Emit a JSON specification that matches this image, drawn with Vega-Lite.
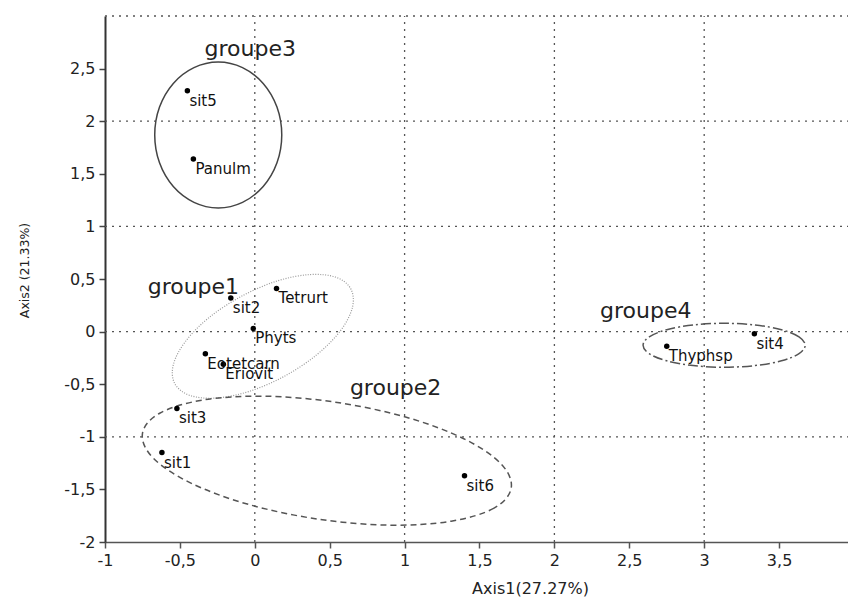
{
  "$schema": "https://vega.github.io/schema/vega-lite/v6.json",
  "width": 743,
  "height": 526,
  "autosize": "none",
  "padding": {"left": 105, "top": 16, "right": 0, "bottom": 56},
  "background": "white",
  "config": {"view": {"stroke": null}, "font": "DejaVu Sans"},
  "datasets": {
    "points": [
      {"name": "sit5", "x": -0.45, "y": 2.29},
      {"name": "Panulm", "x": -0.41, "y": 1.64},
      {"name": "sit2", "x": -0.16, "y": 0.32},
      {"name": "Tetrurt", "x": 0.145, "y": 0.41},
      {"name": "Phyts", "x": -0.01, "y": 0.03},
      {"name": "Eotetcarn", "x": -0.33, "y": -0.21},
      {"name": "Eriovit", "x": -0.21, "y": -0.31},
      {"name": "sit3", "x": -0.52, "y": -0.73},
      {"name": "sit1", "x": -0.62, "y": -1.15},
      {"name": "sit6", "x": 1.4, "y": -1.37},
      {"name": "Thyphsp", "x": 2.75, "y": -0.14},
      {"name": "sit4", "x": 3.335, "y": -0.02}
    ],
    "groups": [
      {"name": "groupe3", "x": -0.03, "y": 2.69},
      {"name": "groupe1", "x": -0.41, "y": 0.425},
      {"name": "groupe2", "x": 0.94, "y": -0.534},
      {"name": "groupe4", "x": 2.61, "y": 0.2}
    ],
    "grid": [
      {"x": 0, "y": -2, "x2": 0, "y2": 3},
      {"x": 1, "y": -2, "x2": 1, "y2": 3},
      {"x": 2, "y": -2, "x2": 2, "y2": 3},
      {"x": 3, "y": -2, "x2": 3, "y2": 3},
      {"x": -1, "y": -1, "x2": 3.96, "y2": -1},
      {"x": -1, "y": 0, "x2": 3.96, "y2": 0},
      {"x": -1, "y": 1, "x2": 3.96, "y2": 1},
      {"x": -1, "y": 2, "x2": 3.96, "y2": 2},
      {"x": -1, "y": 3, "x2": 3.96, "y2": 3}
    ],
    "ellipses": [
      {"g": "groupe1", "k": 0, "x": 0.641, "y": 0.406},
      {"g": "groupe1", "k": 1, "x": 0.651, "y": 0.226},
      {"g": "groupe1", "k": 2, "x": 0.57, "y": 0.005},
      {"g": "groupe1", "k": 3, "x": 0.411, "y": -0.223},
      {"g": "groupe1", "k": 4, "x": 0.197, "y": -0.425},
      {"g": "groupe1", "k": 5, "x": -0.039, "y": -0.569},
      {"g": "groupe1", "k": 6, "x": -0.26, "y": -0.632},
      {"g": "groupe1", "k": 7, "x": -0.434, "y": -0.606},
      {"g": "groupe1", "k": 8, "x": -0.534, "y": -0.495},
      {"g": "groupe1", "k": 9, "x": -0.544, "y": -0.315},
      {"g": "groupe1", "k": 10, "x": -0.463, "y": -0.094},
      {"g": "groupe1", "k": 11, "x": -0.305, "y": 0.134},
      {"g": "groupe1", "k": 12, "x": -0.09, "y": 0.335},
      {"g": "groupe1", "k": 13, "x": 0.146, "y": 0.48},
      {"g": "groupe1", "k": 14, "x": 0.367, "y": 0.542},
      {"g": "groupe1", "k": 15, "x": 0.541, "y": 0.517},
      {"g": "groupe2", "k": 0, "x": 1.712, "y": -1.485},
      {"g": "groupe2", "k": 1, "x": 1.597, "y": -1.678},
      {"g": "groupe2", "k": 2, "x": 1.311, "y": -1.802},
      {"g": "groupe2", "k": 3, "x": 0.899, "y": -1.84},
      {"g": "groupe2", "k": 4, "x": 0.424, "y": -1.783},
      {"g": "groupe2", "k": 5, "x": -0.044, "y": -1.642},
      {"g": "groupe2", "k": 6, "x": -0.43, "y": -1.438},
      {"g": "groupe2", "k": 7, "x": -0.679, "y": -1.201},
      {"g": "groupe2", "k": 8, "x": -0.75, "y": -0.969},
      {"g": "groupe2", "k": 9, "x": -0.635, "y": -0.776},
      {"g": "groupe2", "k": 10, "x": -0.349, "y": -0.651},
      {"g": "groupe2", "k": 11, "x": 0.063, "y": -0.614},
      {"g": "groupe2", "k": 12, "x": 0.538, "y": -0.671},
      {"g": "groupe2", "k": 13, "x": 1.006, "y": -0.812},
      {"g": "groupe2", "k": 14, "x": 1.392, "y": -1.016},
      {"g": "groupe2", "k": 15, "x": 1.641, "y": -1.253},
      {"g": "groupe3", "k": 0, "x": 0.18, "y": 1.869},
      {"g": "groupe3", "k": 1, "x": 0.148, "y": 2.134},
      {"g": "groupe3", "k": 2, "x": 0.056, "y": 2.359},
      {"g": "groupe3", "k": 3, "x": -0.082, "y": 2.509},
      {"g": "groupe3", "k": 4, "x": -0.244, "y": 2.562},
      {"g": "groupe3", "k": 5, "x": -0.406, "y": 2.509},
      {"g": "groupe3", "k": 6, "x": -0.544, "y": 2.359},
      {"g": "groupe3", "k": 7, "x": -0.636, "y": 2.134},
      {"g": "groupe3", "k": 8, "x": -0.668, "y": 1.869},
      {"g": "groupe3", "k": 9, "x": -0.636, "y": 1.604},
      {"g": "groupe3", "k": 10, "x": -0.544, "y": 1.379},
      {"g": "groupe3", "k": 11, "x": -0.406, "y": 1.229},
      {"g": "groupe3", "k": 12, "x": -0.244, "y": 1.176},
      {"g": "groupe3", "k": 13, "x": -0.082, "y": 1.229},
      {"g": "groupe3", "k": 14, "x": 0.056, "y": 1.379},
      {"g": "groupe3", "k": 15, "x": 0.148, "y": 1.604},
      {"g": "groupe4", "k": 0, "x": 3.674, "y": -0.13},
      {"g": "groupe4", "k": 1, "x": 3.633, "y": -0.05},
      {"g": "groupe4", "k": 2, "x": 3.516, "y": 0.018},
      {"g": "groupe4", "k": 3, "x": 3.34, "y": 0.063},
      {"g": "groupe4", "k": 4, "x": 3.133, "y": 0.079},
      {"g": "groupe4", "k": 5, "x": 2.926, "y": 0.063},
      {"g": "groupe4", "k": 6, "x": 2.75, "y": 0.018},
      {"g": "groupe4", "k": 7, "x": 2.633, "y": -0.05},
      {"g": "groupe4", "k": 8, "x": 2.592, "y": -0.13},
      {"g": "groupe4", "k": 9, "x": 2.633, "y": -0.21},
      {"g": "groupe4", "k": 10, "x": 2.75, "y": -0.278},
      {"g": "groupe4", "k": 11, "x": 2.926, "y": -0.323},
      {"g": "groupe4", "k": 12, "x": 3.133, "y": -0.339},
      {"g": "groupe4", "k": 13, "x": 3.34, "y": -0.323},
      {"g": "groupe4", "k": 14, "x": 3.516, "y": -0.278},
      {"g": "groupe4", "k": 15, "x": 3.633, "y": -0.21}
    ]
  },
  "encoding": {
    "x": {
      "field": "x",
      "type": "quantitative",
      "scale": {"domain": [-1, 3.96], "nice": false, "zero": false},
      "axis": {
        "values": [-1, -0.5, 0, 0.5, 1, 1.5, 2, 2.5, 3, 3.5],
        "labelExpr": "replace(toString(datum.value), '.', ',')",
        "grid": false,
        "domainColor": "#555",
        "domainWidth": 1.5,
        "tickColor": "#555",
        "tickSize": 6,
        "tickWidth": 1.5,
        "labelFont": "DejaVu Sans",
        "labelFontSize": 16,
        "labelColor": "#222",
        "labelPadding": 4,
        "labelFlush": false,
        "labelOverlap": false,
        "title": "Axis1(27.27%)",
        "titleFont": "DejaVu Sans",
        "titleFontSize": 16,
        "titleFontWeight": "normal",
        "titleColor": "#222",
        "titleX": 425,
        "titleY": 46,
        "titleBaseline": "middle",
        "titleAlign": "center"
      }
    },
    "y": {
      "field": "y",
      "type": "quantitative",
      "scale": {"domain": [-2, 3], "nice": false, "zero": false},
      "axis": {
        "values": [-2, -1.5, -1, -0.5, 0, 0.5, 1, 1.5, 2, 2.5],
        "labelExpr": "replace(toString(datum.value), '.', ',')",
        "grid": false,
        "domainColor": "#333",
        "domainWidth": 2,
        "tickColor": "#444",
        "tickSize": 6,
        "tickWidth": 1.5,
        "labelFont": "DejaVu Sans",
        "labelFontSize": 16,
        "labelColor": "#222",
        "labelPadding": 4,
        "labelFlush": false,
        "labelOverlap": false,
        "title": "Axis2 (21.33%)",
        "titleFont": "DejaVu Sans",
        "titleFontSize": 12.5,
        "titleFontWeight": "normal",
        "titleColor": "#222",
        "titleAngle": -90,
        "titleX": -81,
        "titleY": 254,
        "titleBaseline": "middle",
        "titleAlign": "center"
      }
    }
  },
  "layer": [
    {
      "data": {"name": "grid"},
      "mark": {"type": "rule", "color": "#555", "strokeWidth": 1.3, "strokeDash": [2, 5]},
      "encoding": {"x2": {"field": "x2"}, "y2": {"field": "y2"}}
    },
    {
      "data": {"name": "ellipses"},
      "transform": [{"filter": {"field": "g", "equal": "groupe3"}}],
      "mark": {"type": "line", "interpolate": "cardinal-closed", "color": "#444", "strokeWidth": 1.5},
      "encoding": {"order": {"field": "k", "type": "quantitative"}}
    },
    {
      "data": {"name": "ellipses"},
      "transform": [{"filter": {"field": "g", "equal": "groupe1"}}],
      "mark": {"type": "line", "interpolate": "cardinal-closed", "color": "#999", "strokeWidth": 1.2, "strokeDash": [1, 1.5]},
      "encoding": {"order": {"field": "k", "type": "quantitative"}}
    },
    {
      "data": {"name": "ellipses"},
      "transform": [{"filter": {"field": "g", "equal": "groupe2"}}],
      "mark": {"type": "line", "interpolate": "cardinal-closed", "color": "#555", "strokeWidth": 1.5, "strokeDash": [6, 4]},
      "encoding": {"order": {"field": "k", "type": "quantitative"}}
    },
    {
      "data": {"name": "ellipses"},
      "transform": [{"filter": {"field": "g", "equal": "groupe4"}}],
      "mark": {"type": "line", "interpolate": "cardinal-closed", "color": "#555", "strokeWidth": 1.5, "strokeDash": [10, 3, 2, 3]},
      "encoding": {"order": {"field": "k", "type": "quantitative"}}
    },
    {
      "data": {"name": "points"},
      "mark": {"type": "circle", "size": 30, "color": "#000", "opacity": 1}
    },
    {
      "data": {"name": "points"},
      "mark": {"type": "text", "align": "left", "baseline": "middle", "dx": 2, "dy": 10, "font": "DejaVu Sans", "fontSize": 15, "color": "#111"},
      "encoding": {"text": {"field": "name"}}
    },
    {
      "data": {"name": "groups"},
      "mark": {"type": "text", "align": "center", "baseline": "middle", "font": "DejaVu Sans", "fontSize": 22, "color": "#222"},
      "encoding": {"text": {"field": "name"}}
    }
  ]
}
